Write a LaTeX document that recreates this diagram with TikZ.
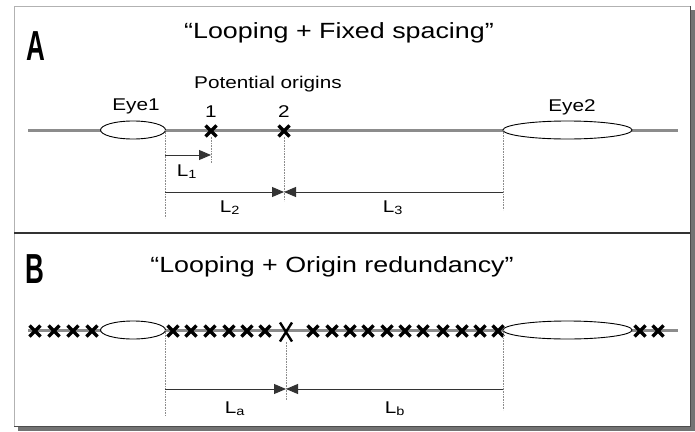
\documentclass[tikz,border=0pt]{standalone}
\usepackage{fontspec}
\setmainfont{Liberation Sans}
\usetikzlibrary{arrows.meta,shapes.geometric,shapes.misc}
\tikzset{
  dna/.style={line width=3pt, black!45},
  eye/.style={draw, line width=0.9pt, fill=white, ellipse, inner sep=0pt, outer sep=0pt, minimum height=18pt},
  ori/.style={cross out, draw, line width=3.3pt, inner sep=0pt, outer sep=0pt, minimum width=11pt, minimum height=11pt},
  guide/.style={black!45, densely dotted, line width=0.6pt},
  dimarrow/.style={line width=0.9pt, black!80, -{Triangle[length=12pt,width=10pt]}},
  lab/.style={anchor=base, xscale=1.22, inner sep=0pt},
  panel/.style={anchor=base, xscale=0.62, inner sep=0pt, font=\bfseries\fontsize{42}{42}\selectfont}
}
\begin{document}
\begin{tikzpicture}[x=1pt,y=-1pt]
    \useasboundingbox (0,0) rectangle (695,431);
    % frame with shadow
    \fill[black!55] (18,10) rectangle (695,431);
    \draw[black!30, fill=white] (14,6) rectangle (690,426);
    \draw[line width=0.8pt, black!70] (690,6) -- (690,426) -- (14,426);
    \draw[line width=2pt, black!80] (14,233) -- (690,233);

    % panel A
    \node[panel] (pA) at (36,60) {A};
    \node[lab, font=\fontsize{22}{22}\selectfont] (tA) at (339,38) {“Looping + Fixed spacing”};
    \node[lab, font=\fontsize{17}{17}\selectfont] (po) at (268,88) {Potential origins};
    \draw[dna] (28,130) -- (678,130);
    \node[eye, minimum width=65pt] (eyeA1) at (133,130) {};
    \node[eye, minimum width=129pt] (eyeA2) at (567.5,130) {};
    \node[lab, font=\fontsize{17}{17}\selectfont] at (136,110) {Eye1};
    \node[lab, font=\fontsize{17}{17}\selectfont] at (572,111) {Eye2};
    \node[ori] (oriA1) at (211,131) {};
    \node[ori] (oriA2) at (284,131) {};
    \node[lab, font=\fontsize{17}{17}\selectfont] at (211,117) {1};
    \node[lab, font=\fontsize{17}{17}\selectfont] at (284,117) {2};
    \draw[guide] (eyeA1.east) -- ++(0,88);
    \draw[guide] (oriA1.south) -- ++(0,27);
    \draw[guide] (oriA2.south) -- ++(0,64);
    \draw[guide] (eyeA2.west) -- ++(0,80);
    \coordinate (a0) at (165,155);
    \coordinate (a1) at (211,155);
    \coordinate (b0) at (165,192);
    \coordinate (b1) at (284,192);
    \coordinate (b2) at (503,192);
    \draw[dimarrow] (a0) -- (a1);
    \draw[dimarrow] (b0) -- (b1);
    \draw[dimarrow] (b2) -- (b1);
    \node[lab, font=\fontsize{17}{17}\selectfont] at (187,176) {L\textsubscript{1}};
    \node[lab, font=\fontsize{17}{17}\selectfont] at (230,212) {L\textsubscript{2}};
    \node[lab, font=\fontsize{17}{17}\selectfont] at (393,212) {L\textsubscript{3}};

    % panel B
    \node[panel] (pB) at (35,283) {B};
    \node[lab, font=\fontsize{22}{22}\selectfont] (tB) at (332,272) {“Looping + Origin redundancy”};
    \draw[dna] (28,330) -- (678,330);
    \foreach \x [count=\i] in {35,54,73,92,173,191,210,229,247,265,313,332,350,368,387,405,423,443,462,480,498,640,658}{
        \node[ori] (xB\i) at (\x,331) {};
    }
    \node[eye, minimum width=65pt] (eyeB1) at (133,330) {};
    \node[eye, minimum width=129pt] (eyeB2) at (567.5,330) {};
    \node[ori, line width=2.4pt, minimum width=12pt, minimum height=19pt] (oriB) at (286,332) {};
    \draw[guide] (eyeB1.east) -- ++(0,86);
    \draw[guide] (oriB.south) -- ++(0,58);
    \draw[guide] (eyeB2.west) -- ++(0,80);
    \coordinate (c0) at (165,389);
    \coordinate (c1) at (286,389);
    \coordinate (c2) at (503,389);
    \draw[dimarrow] (c0) -- (c1);
    \draw[dimarrow] (c2) -- (c1);
    \node[lab, font=\fontsize{17}{17}\selectfont] at (235,413) {L\textsubscript{a}};
    \node[lab, font=\fontsize{17}{17}\selectfont] at (395,413) {L\textsubscript{b}};
\end{tikzpicture}
\end{document}
